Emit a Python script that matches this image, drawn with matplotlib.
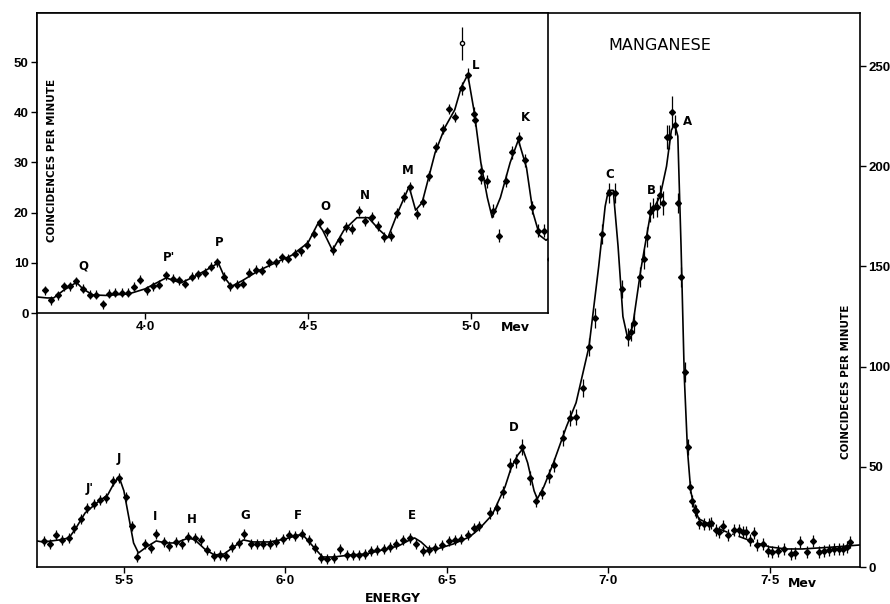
import matplotlib
matplotlib.use("Agg")
import matplotlib.pyplot as plt

plt.rcParams['font.family'] = ['DejaVu Sans']

# ---------------- main spectrum (energy in MeV, coincidences per minute) -------------
main_E = [5.252, 5.270, 5.291, 5.308, 5.329, 5.347, 5.367, 5.385, 5.406, 5.426, 5.445,
          5.465, 5.485, 5.506, 5.524, 5.542, 5.565, 5.583, 5.600, 5.623, 5.641, 5.662,
          5.680, 5.700, 5.720, 5.738, 5.758, 5.778, 5.797, 5.816, 5.836, 5.855, 5.873,
          5.893, 5.912, 5.931, 5.951, 5.971, 5.992, 6.012, 6.031, 6.050, 6.072, 6.091,
          6.109, 6.130, 6.149, 6.169, 6.191, 6.208, 6.227, 6.246, 6.266, 6.285, 6.305,
          6.325, 6.344, 6.365, 6.385, 6.405, 6.425, 6.444, 6.464, 6.485, 6.507, 6.526,
          6.544, 6.565, 6.585, 6.600, 6.633, 6.654, 6.675, 6.696, 6.714, 6.734, 6.757,
          6.776, 6.794, 6.815, 6.833, 6.858, 6.881, 6.899, 6.920, 6.941, 6.960, 6.981,
          7.002, 7.021, 7.041, 7.061, 7.070, 7.078, 7.099, 7.109, 7.119, 7.129, 7.139,
          7.149, 7.159, 7.168, 7.180, 7.189, 7.198, 7.206, 7.214, 7.224, 7.236, 7.247,
          7.254, 7.260, 7.267, 7.271, 7.281, 7.295, 7.310, 7.318, 7.333, 7.342, 7.354,
          7.370, 7.389, 7.404, 7.417, 7.427, 7.438, 7.451, 7.461, 7.479, 7.493, 7.506,
          7.526, 7.544, 7.565, 7.578, 7.594, 7.615, 7.635, 7.651, 7.667, 7.682, 7.698,
          7.714, 7.727, 7.738, 7.748]
main_C = [13.0, 11.6, 15.8, 13.5, 14.6, 19.6, 23.8, 29.3, 31.6, 33.3, 34.3,
          42.9, 44.6, 34.9, 20.5, 5.0, 11.6, 9.3, 16.6, 12.6, 10.5, 12.6,
          11.6, 15.0, 14.3, 13.3, 8.3, 5.3, 6.0, 5.3, 10.0, 12.1, 16.6,
          11.3, 11.3, 11.3, 11.6, 12.6, 13.8, 15.8, 15.5, 16.6, 13.3, 9.3,
          4.7, 3.8, 4.7, 8.8, 6.0, 6.0, 6.0, 6.3, 8.0, 8.3, 8.8,
          10.0, 11.3, 13.6, 14.6, 11.3, 8.0, 8.3, 9.7, 11.0, 13.0, 13.3,
          13.8, 15.9, 19.3, 20.5, 26.8, 29.4, 37.4, 50.8, 52.9, 59.9, 44.5,
          32.7, 36.9, 45.3, 50.8, 64.2, 74.2, 75.0, 89.2, 109.6, 124.4, 166.2,
          186.5, 186.5, 138.6, 114.6, 117.4, 121.6, 144.9, 153.5, 164.8, 177.3, 179.0,
          179.8, 185.6, 181.5, 214.7, 214.4, 226.9, 220.6, 181.5, 144.9, 97.5, 60.0,
          39.8, 32.7, 28.5, 27.7, 21.8, 21.3, 21.6, 22.1, 18.5, 17.6, 20.6,
          15.9, 18.3, 18.5, 17.6, 17.3, 13.4, 16.8, 11.2, 11.7, 7.9, 7.6,
          7.9, 9.2, 6.7, 6.9, 12.6, 7.6, 12.9, 7.6, 8.2, 8.4, 8.9,
          8.9, 9.2, 10.1, 12.6]
main_err = ([2.5] * 70
            + [3, 3, 3, 3.5, 3.5, 4, 3.5, 3, 3, 3.5, 3.5, 4, 4, 4, 4.5, 4.5, 5, 5, 5, 5,
               4.5, 4.5, 4.5, 5, 5, 5, 5, 5, 5, 5, 5, 6, 6, 6, 8, 5, 5, 5, 5, 4]
            + [3] * 37)

main_curve_E = [5.231, 5.25, 5.30, 5.33, 5.35, 5.38, 5.42, 5.45, 5.47, 5.485, 5.50, 5.515,
                5.53, 5.545, 5.57, 5.60, 5.63, 5.66, 5.70, 5.72, 5.75, 5.78, 5.81, 5.84,
                5.87, 5.90, 5.95, 6.00, 6.04, 6.06, 6.09, 6.115, 6.15, 6.20, 6.25, 6.30,
                6.35, 6.385, 6.40, 6.42, 6.44, 6.47, 6.52, 6.57, 6.60, 6.64, 6.68, 6.70,
                6.72, 6.735, 6.75, 6.77, 6.78, 6.80, 6.83, 6.87, 6.90, 6.94, 6.97, 6.99,
                7.00, 7.015, 7.03, 7.045, 7.06, 7.075, 7.10, 7.13, 7.16, 7.18, 7.195,
                7.205, 7.215, 7.225, 7.235, 7.245, 7.255, 7.265, 7.28]
main_curve_C = [13.0, 12.5, 13.5, 14.5, 19, 27, 32.5, 36, 42, 45, 38, 25,
                12, 7, 10, 13, 12, 12, 14.5, 13.5, 9, 6, 6.5, 10,
                13.5, 12.5, 12.5, 14, 16, 15, 9.5, 5, 5, 6, 6.5, 8.5,
                10.5, 13.5, 14.5, 12.5, 9.5, 9, 11.5, 15, 19, 26, 40, 50,
                56, 59, 52, 38, 34, 40, 52, 70, 82, 110, 150, 180,
                188, 188, 160, 125, 114, 120, 148, 176, 185, 200, 218,
                221, 215, 160, 95, 58, 38, 30, 24]
tail_dash_E = [7.28, 7.35, 7.40, 7.45, 7.50]
tail_dash_C = [24, 18.5, 15.5, 12.5, 10]
tail_solid_E = [7.50, 7.55, 7.60, 7.65, 7.70, 7.779]
tail_solid_C = [10, 9, 9, 9.5, 10, 11]

main_labels = ["J'", "J", "I", "H", "G", "F", "E", "D", "C", "B", "A"]
main_label_E = [5.393, 5.483, 5.596, 5.709, 5.875, 6.039, 6.391, 6.706, 7.003, 7.132, 7.244]
main_label_C = [35.9, 50.9, 22.1, 20.5, 22.5, 22.5, 22.5, 66.3, 192.8, 184.5, 219.0]

main_xticks = [5.5, 6.0, 6.5, 7.0, 7.5]
main_xticklabels = ["5·5", "6·0", "6·5", "7·0", "7·5"]
main_yticks = [0, 50, 100, 150, 200, 250]

# ---------------- inset (low-energy part) ----------------
ins_E = [3.693, 3.713, 3.733, 3.751, 3.770, 3.790, 3.810, 3.830, 3.850, 3.871, 3.890,
         3.909, 3.929, 3.948, 3.967, 3.986, 4.007, 4.025, 4.044, 4.064, 4.085, 4.105,
         4.124, 4.144, 4.164, 4.183, 4.203, 4.222, 4.242, 4.262, 4.282, 4.300, 4.320,
         4.340, 4.360, 4.381, 4.401, 4.421, 4.439, 4.460, 4.478, 4.498, 4.518, 4.538,
         4.558, 4.576, 4.597, 4.617, 4.635, 4.655, 4.675, 4.695, 4.714, 4.734, 4.754,
         4.773, 4.793, 4.813, 4.833, 4.853, 4.872, 4.892, 4.913, 4.933, 4.951, 4.972,
         4.991, 5.010, 5.012, 5.030, 5.032, 5.050, 5.067, 5.087, 5.107, 5.127, 5.146,
         5.166, 5.186, 5.206, 5.224, 5.242]
ins_C = [4.5, 2.5, 3.5, 5.3, 5.3, 6.3, 4.8, 3.6, 3.6, 1.7, 3.8,
         4.0, 4.0, 4.0, 5.2, 6.6, 4.5, 5.3, 5.6, 7.5, 6.8, 6.5,
         5.8, 7.2, 7.7, 8.0, 9.2, 10.1, 7.2, 5.3, 5.6, 5.8, 8.0,
         8.6, 8.4, 10.1, 10.1, 11.1, 10.8, 11.8, 12.3, 13.6, 15.8, 18.1,
         16.3, 12.5, 14.6, 17.2, 16.7, 20.3, 18.3, 19.2, 17.4, 15.1, 15.4,
         19.9, 23.1, 25.2, 19.8, 22.1, 27.3, 33.0, 36.7, 40.6, 39.0, 44.8,
         47.5, 39.7, 38.5, 28.4, 27.0, 26.3, 20.4, 15.4, 26.4, 32.0, 34.8,
         30.4, 21.1, 16.4, 16.4, 10.8]
ins_err = [0.9] * 45 + [1.0] * 20 + [1.3] * 17
ins_outlier_E = [4.972]
ins_outlier_C = [53.8]

ins_curve_E = [3.669, 3.70, 3.72, 3.75, 3.79, 3.81, 3.84, 3.88, 3.95, 4.00, 4.065, 4.11,
               4.15, 4.20, 4.225, 4.245, 4.265, 4.30, 4.35, 4.40, 4.45, 4.50, 4.53, 4.545,
               4.575, 4.61, 4.65, 4.685, 4.72, 4.745, 4.775, 4.81, 4.83, 4.85, 4.89, 4.92,
               4.95, 4.97, 4.99, 5.01, 5.03, 5.05, 5.065, 5.09, 5.12, 5.145, 5.17, 5.19,
               5.21, 5.23, 5.236]
ins_curve_C = [3.2, 3.0, 3.0, 4.5, 6.1, 4.8, 3.6, 3.5, 3.8, 4.8, 7.0, 6.0,
               7.2, 9.0, 10.0, 7.0, 5.3, 6.5, 8.5, 10.0, 11.5, 14.0, 17.8, 16.5,
               12.5, 16.5, 19.0, 19.0, 16.5, 15.0, 20.0, 25.2, 20.5, 22.0, 32.0, 37.0,
               40.5, 45.0, 47.5, 40.0, 30.0, 23.0, 19.0, 23.0, 30.0, 34.5, 29.0, 20.0,
               15.5, 14.5, 14.8]

ins_labels = ["Q", "P'", "P", "O", "N", "M", "L", "K"]
ins_label_E = [3.81, 4.075, 4.229, 4.553, 4.674, 4.807, 5.014, 5.166]
ins_label_C = [8.0, 9.8, 12.8, 19.9, 22.1, 27.2, 48.1, 37.7]

ins_xticks = [4.0, 4.5, 5.0]
ins_xticklabels = ["4·0", "4·5", "5·0"]
ins_yticks = [0, 10, 20, 30, 40, 50]

# ---------------- drawing ----------------
W, H = 890, 604
fig = plt.figure(figsize=(W / 100, H / 100), dpi=100)
fig.patch.set_facecolor('white')
tick_font = {'family': 'Liberation Sans', 'size': 9.5, 'weight': 'bold'}

ax = fig.add_axes([37 / W, 1 - 567 / H, (860 - 37) / W, (567 - 13) / H])
ax.set_xlim(5.231, 7.779)
ax.set_ylim(0, 276.5)

lw = 1.2
ax.plot(main_curve_E, main_curve_C, color='black', lw=lw)
ax.plot(tail_dash_E, tail_dash_C, color='black', lw=lw, ls=(0, (6, 3, 1, 3)))
ax.plot(tail_solid_E, tail_solid_C, color='black', lw=lw)
ax.errorbar(main_E, main_C, yerr=main_err, xerr=0.006, fmt='D', ms=3, color='black',
            ecolor='black', elinewidth=0.9, capsize=0)

for t, e, c in zip(main_labels, main_label_E, main_label_C):
    ax.text(e, c, t, fontsize=8.5, fontweight='bold', ha='center', va='bottom')

ax.yaxis.tick_right()
ax.set_yticks(main_yticks)
ax.set_yticklabels([str(v) for v in main_yticks], fontdict=tick_font)
ax.set_xticks(main_xticks)
ax.set_xticklabels(main_xticklabels, fontdict=tick_font)
ax.tick_params(axis='both', direction='out', length=4, width=1, pad=2)
for s in ax.spines.values():
    s.set_linewidth(1.2)
ax.text(7.555, -5, "Mev", fontsize=9, fontweight='bold', ha='left', va='top')
fig.text(393 / W, 1 - 598 / H, "ENERGY", fontsize=9, fontweight='bold',
         ha='center', va='center')
fig.text(660 / W, 1 - 45 / H, "MANGANESE", fontsize=11.5, ha='center', va='center')
fig.text(846 / W, 1 - 382 / H, "COINCIDECES PER MINUTE", fontsize=7.5, fontweight='bold',
         rotation=90, ha='center', va='center')

# inset
ia = fig.add_axes([37 / W, 1 - 313 / H, (548 - 37) / W, (313 - 13) / H])
ia.set_facecolor('white')
ia.set_xlim(3.669, 5.236)
ia.set_ylim(0, 59.8)
ia.plot(ins_curve_E, ins_curve_C, color='black', lw=lw)
ia.errorbar(ins_E, ins_C, yerr=ins_err, xerr=0.004, fmt='D', ms=3, color='black',
            ecolor='black', elinewidth=0.9, capsize=0)
ia.errorbar(ins_outlier_E, ins_outlier_C, yerr=3.3, fmt='o', ms=3, mfc='white',
            mec='black', ecolor='black', elinewidth=0.9, capsize=0)
for t, e, c in zip(ins_labels, ins_label_E, ins_label_C):
    ia.text(e, c, t, fontsize=8.5, fontweight='bold', ha='center', va='bottom')
ia.set_xticks(ins_xticks)
ia.set_xticklabels(ins_xticklabels, fontdict=tick_font)
ia.set_yticks(ins_yticks)
ia.set_yticklabels([str(v) for v in ins_yticks], fontdict=tick_font)
ia.tick_params(axis='both', direction='out', length=4, width=1, pad=2)
for s in ia.spines.values():
    s.set_linewidth(1.2)
ia.text(5.09, -1.5, "Mev", fontsize=9, fontweight='bold', ha='left', va='top')
fig.text(52 / W, 1 - 160 / H, "COINCIDENCES PER MINUTE", fontsize=7.5, fontweight='bold',
         rotation=90, ha='center', va='center')

fig.savefig("out.png", dpi=100, facecolor='white')
